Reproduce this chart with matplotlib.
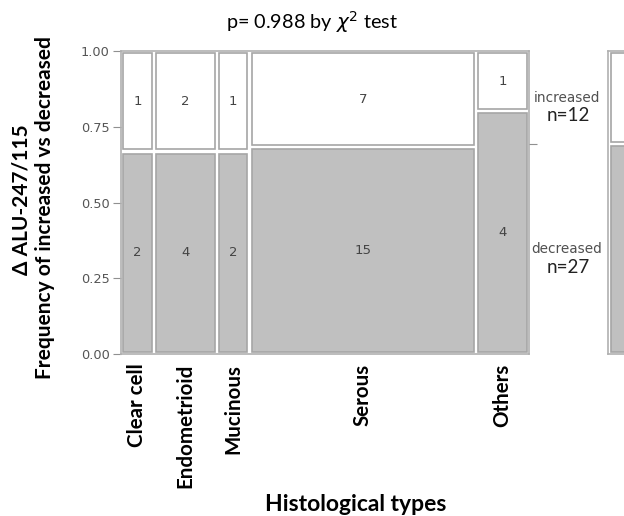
import numpy as np
import matplotlib
matplotlib.use('Agg')
import matplotlib.pyplot as plt

# counts per histological type
types = ['Clear cell', 'Endometrioid', 'Mucinous', 'Serous', 'Others']
decreased = [2, 4, 2, 15, 4]
increased = [1, 2, 1, 7, 1]
title = 'p= 0.988 by $\\chi^2$ test'
ylab1 = '\u0394 ALU-247/115'
ylab2 = 'Frequency of increased vs decreased'

dec = np.array(decreased)
inc = np.array(increased)
tot = dec + inc
n_dec = dec.sum()
n_inc = inc.sum()
n_all = n_dec + n_inc

GRAY = '#c0c0c0'
EDGE = '#a6a6a6'
TXT = '#444444'
calib = 'Lato'

fig = plt.figure(figsize=(6.24, 5.16), dpi=100)
W, H = 624, 516

def px_axes(l, r, t, b):
    return fig.add_axes([l / W, 1 - b / H, (r - l) / W, (b - t) / H])

ax = px_axes(121, 529, 51, 354)

gap = 0.2
inset = 0.1
starts = np.concatenate([[0], np.cumsum(tot[:-1] + gap)])
ygap = 0.006
for x0, w, d, i in zip(starts, tot, dec, inc):
    f = d / (d + i)
    ax.bar(x0 + inset, f - 2 * ygap, width=w - 2 * inset, bottom=ygap, align='edge',
           color=GRAY, edgecolor=EDGE, linewidth=1.2)
    ax.bar(x0 + inset, 1 - f - 2.5 * ygap, width=w - 2 * inset, bottom=f + 1.5 * ygap,
           align='edge', color='white', edgecolor=EDGE, linewidth=1.2)
    ax.text(x0 + w / 2, f / 2, str(d), ha='center', va='center', fontsize=9.5, color=TXT)
    ax.text(x0 + w / 2, (1 + f) / 2, str(i), ha='center', va='center', fontsize=9.5, color=TXT)

ax.set_xlim(-0.1, starts[-1] + tot[-1] + 0.1)
ax.set_ylim(0, 1)
for s in ax.spines.values():
    s.set_color('#b0b0b0')
    s.set_linewidth(1.2)
ax.set_yticks([0, 0.25, 0.5, 0.75, 1.0])
ax.set_yticklabels(['0.00', '0.25', '0.50', '0.75', '1.00'])
ax.tick_params(axis='y', length=6, color='#909090', labelcolor='#555555', labelsize=9.3, pad=2)
ax.set_xticks(starts + tot / 2)
ax.set_xticklabels(types, rotation=90, fontsize=14.8, fontweight='bold', family=calib)
ax.tick_params(axis='x', length=0, pad=7)

ax.set_xlabel('Histological types', fontsize=16.5, fontweight='bold', family=calib)
ax.xaxis.set_label_coords(0.576, -0.462)
ax.set_title(title, fontsize=14.3, family=calib, pad=16, x=0.468)

# y label as two separate lines
fig.text(22 / W, 1 - 200 / H, ylab1, rotation=90, ha='center', va='center',
         fontsize=15, fontweight='bold', family=calib)
fig.text(45 / W, 1 - 208 / H, ylab2, rotation=90, ha='center', va='center',
         fontsize=15, fontweight='bold', family=calib)

# right side tick at overall split
ax2 = ax.twinx()
ax2.set_ylim(0, 1)
ax2.set_yticks([n_dec / n_all])
ax2.set_yticklabels([''])
ax2.tick_params(axis='y', length=6, color='#909090')
for s in ax2.spines.values():
    s.set_visible(False)

f_all = n_dec / n_all
for ymid, lab, n in [((1 + f_all) / 2, 'increased', n_inc), (f_all / 2, 'decreased', n_dec)]:
    ax.annotate(lab, xy=(1, ymid), xycoords=('axes fraction', 'data'), xytext=(27, 0),
                textcoords='offset points', ha='center', va='center', fontsize=9.8,
                color='#505050', annotation_clip=False)
    ax.annotate('n=%d' % n, xy=(1, ymid), xycoords=('axes fraction', 'data'), xytext=(28, -13),
                textcoords='offset points', ha='center', va='center', fontsize=13.5,
                family=calib, color='#222222', annotation_clip=False)

# marginal bar, cut off at figure edge
axm = px_axes(608, 660, 51, 354)
axm.bar(0.06, f_all - 2 * ygap, width=0.88, bottom=ygap, align='edge',
        color=GRAY, edgecolor=EDGE, linewidth=1.2)
axm.bar(0.06, 1 - f_all - 2.5 * ygap, width=0.88, bottom=f_all + 1.5 * ygap, align='edge',
        color='white', edgecolor=EDGE, linewidth=1.2)
axm.set_xlim(0, 1)
axm.set_ylim(0, 1)
axm.set_xticks([])
axm.set_yticks([])
for s in axm.spines.values():
    s.set_color('#b0b0b0')
    s.set_linewidth(1.2)

fig.savefig('out.png', dpi=100)
